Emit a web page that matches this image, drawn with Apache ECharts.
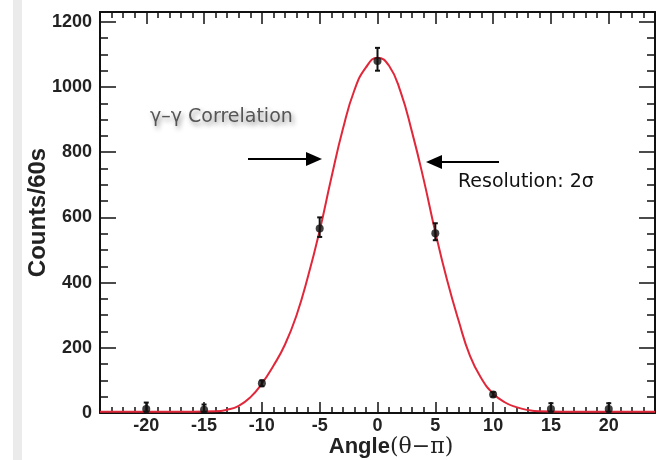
<!DOCTYPE html>
<html>
<head>
<meta charset="utf-8">
<script src="https://cdn.jsdelivr.net/npm/echarts@6/dist/echarts.min.js"></script>
<style>
  html, body { margin: 0; padding: 0; background: #fff; }
  #main { width: 664px; height: 460px; }
</style>
</head>
<body>
<div id="main"></div>
<script>
// tick labels
const xTicks = [-20, -15, -10, -5, 0, 5, 10, 15, 20];
const yTicks = [0, 200, 400, 600, 800, 1000, 1200];

// measured points (angle, counts) with error bars
const pointAngles = [-20, -15, -10, -5, 0, 5, 10, 15, 20];
const pointCounts = [12, 10, 91, 566, 1080, 551, 57, 12, 12];
const errLow = [4, 3, 82, 540, 1050, 530, 50, 4, 4];
const errHigh = [32, 26, 100, 600, 1120, 582, 64, 30, 30];

// fitted curve
const fitAngles = [-24, -20, -16, -14, -13, -12, -11, -10, -9, -8, -7, -6, -5, -4, -3, -2, -1, 0,
  1, 2, 3, 4, 5, 6, 7, 8, 9, 10, 11, 12, 13, 14, 16, 20, 24];
const fitCounts = [4, 4, 4, 5, 10, 22, 48, 90, 145, 210, 300, 420, 560, 720, 870, 990, 1060, 1090,
  1065, 985, 860, 715, 555, 410, 285, 175, 105, 60, 33, 18, 9, 5, 4, 4, 4];

const xMinor = [];
for (let v = -24; v <= 24; v++) if (v % 5 !== 0) xMinor.push(v);
const yMinor = [];
for (let v = 50; v <= 1200; v += 50) if (v % 200 !== 0) yMinor.push(v);

const chart = echarts.init(document.getElementById('main'));

const lineStyle = { color: '#111', width: 2 };
const labelFont = { color: '#222', fontSize: 18, fontWeight: 'bold', fontFamily: 'Liberation Sans', formatter: v => String(v) };

function xAxisDef(pos, ticks, len, showLine, labels) {
  return {
    type: 'value', position: pos, min: -24, max: 24,
    axisLine: { show: showLine, onZero: false, lineStyle: lineStyle },
    axisTick: { inside: true, length: len, customValues: ticks, lineStyle: { color: '#111', width: 1.5 } },
    axisLabel: labels ? Object.assign({ customValues: xTicks, margin: 4 }, labelFont) : { show: false },
    splitLine: { show: false }
  };
}
function yAxisDef(pos, ticks, len, showLine, labels) {
  return {
    type: 'value', position: pos, min: 0, max: 1230,
    axisLine: { show: showLine, onZero: false, lineStyle: lineStyle },
    axisTick: { inside: true, length: len, customValues: ticks, lineStyle: { color: '#111', width: 1.5 } },
    axisLabel: labels ? Object.assign({ customValues: yTicks, margin: 8 }, labelFont) : { show: false },
    splitLine: { show: false }
  };
}

const yAxis0 = yAxisDef('left', yTicks, 16, true, true);
yAxis0.name = 'Counts/60s';
yAxis0.nameLocation = 'middle';
yAxis0.nameGap = 50;
yAxis0.nameMoveOverlap = false;
yAxis0.nameTextStyle = { fontSize: 24, fontWeight: 'bold', color: '#222', fontFamily: 'Liberation Sans' };

const option = {
  animation: false,
  backgroundColor: '#fff',
  grid: { left: 100, right: 9, top: 12, bottom: 47 },
  xAxis: [
    xAxisDef('bottom', xTicks, 11, true, true),
    xAxisDef('bottom', xMinor, 6, false, false),
    xAxisDef('top', xTicks, 12, true, false),
    xAxisDef('top', xMinor, 6, false, false)
  ],
  yAxis: [
    yAxis0,
    yAxisDef('left', yMinor, 8, false, false),
    yAxisDef('right', yTicks, 16, true, false),
    yAxisDef('right', yMinor, 8, false, false)
  ],
  graphic: [
    { type: 'rect', shape: { x: 13, y: 0, width: 9, height: 460 }, style: { fill: '#ebebeb' }, z: -1 },
    {
      type: 'text', x: 391, y: 447,
      style: {
        text: '{a|Angle}{b|(θ−π)}', align: 'center', verticalAlign: 'middle',
        rich: {
          a: { fontSize: 22, fontWeight: 'bold', fontFamily: 'Liberation Sans', fill: '#222' },
          b: { fontSize: 22, fontFamily: 'DejaVu Serif', fill: '#222' }
        }
      }
    },
    {
      type: 'text', x: 150, y: 117,
      style: {
        text: 'γ–γ Correlation', fontSize: 19, fontFamily: 'DejaVu Sans', fill: '#555',
        verticalAlign: 'middle',
        textShadowColor: 'rgba(0,0,0,0.45)', textShadowBlur: 5, textShadowOffsetX: 2, textShadowOffsetY: 3
      }
    },
    {
      type: 'text', x: 458, y: 182,
      style: { text: 'Resolution: 2σ', fontSize: 19, fontFamily: 'DejaVu Sans', fill: '#111', verticalAlign: 'middle' }
    },
    { type: 'line', shape: { x1: 248, y1: 159, x2: 310, y2: 159 }, style: { stroke: '#000', lineWidth: 2 } },
    { type: 'polygon', shape: { points: [[322, 159], [306, 152], [306, 166]] }, style: { fill: '#000' } },
    { type: 'line', shape: { x1: 438, y1: 162, x2: 499, y2: 162 }, style: { stroke: '#000', lineWidth: 2 } },
    { type: 'polygon', shape: { points: [[426, 162], [442, 155], [442, 169]] }, style: { fill: '#000' } }
  ],
  series: [
    {
      type: 'line', smooth: true, showSymbol: false, z: 2,
      data: fitAngles.map((a, i) => [a, fitCounts[i]]),
      lineStyle: { color: '#e0283a', width: 2 }
    },
    {
      type: 'custom', z: 3,
      data: pointAngles.map((a, i) => [a, errLow[i], errHigh[i]]),
      encode: { x: 0, y: [1, 2] },
      renderItem: function (params, api) {
        const lo = api.coord([api.value(0), api.value(1)]);
        const hi = api.coord([api.value(0), api.value(2)]);
        const st = { stroke: '#111', lineWidth: 2 };
        return {
          type: 'group', children: [
            { type: 'line', shape: { x1: lo[0], y1: lo[1], x2: hi[0], y2: hi[1] }, style: st },
            { type: 'line', shape: { x1: hi[0] - 2.5, y1: hi[1], x2: hi[0] + 2.5, y2: hi[1] }, style: st },
            { type: 'line', shape: { x1: lo[0] - 2.5, y1: lo[1], x2: lo[0] + 2.5, y2: lo[1] }, style: st }
          ]
        };
      }
    },
    {
      type: 'scatter', z: 4, symbolSize: 8,
      data: pointAngles.map((a, i) => [a, pointCounts[i]]),
      itemStyle: { color: '#111' }
    }
  ]
};

chart.setOption(option);
</script>
</body>
</html>
